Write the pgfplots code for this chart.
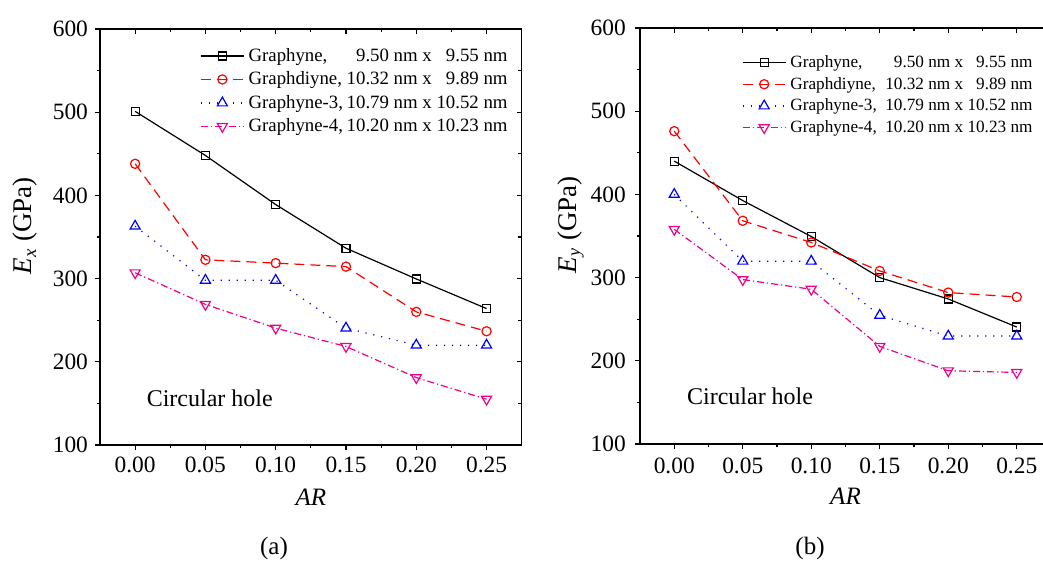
\documentclass[border=0pt]{standalone}
\usepackage{pgfplots}
\pgfplotsset{compat=1.18}
\usepackage{pgfplotstable}
\usepackage{fontspec}
\setmainfont{Liberation Serif}
\newfontfamily\tr{Liberation Serif}

\pgfplotstableread{
x g gd g3 g4
0.00 501 438 363 307
0.05 448 322.6 298 269
0.10 389 318.6 298 240.5
0.15 336.5 314.4 240.5 218.4
0.20 299.6 260 220 181
0.25 264 236.7 220 155
}\Ex

\pgfplotstableread{
x g gd g3 g4
0.00 440 476 400 358
0.05 392.6 368.3 319.7 297.6
0.10 349.4 342.2 319.7 286
0.15 300 308 254.6 217.3
0.20 274.3 282 229.7 188
0.25 240.6 276.7 229.7 186
}\Ey

\newlength\lwa \newlength\lwb \newlength\lwc \newlength\lwd
\newcommand\lgA[3]{\makebox[\lwa][l]{#1} \makebox[\lwb][r]{#2} nm x \makebox[\lwb][r]{#3} nm}
\newcommand\lgB[3]{\makebox[\lwc][l]{#1}\hspace{0.55em}\makebox[\lwd][r]{#2} nm x \makebox[\lwd][r]{#3} nm}

\pgfplotsset{
  base/.style={
    scale only axis,
    xmin=-0.025, xmax=0.275, ymin=100, ymax=600,
    xtick={0,0.05,0.1,0.15,0.2,0.25},
    ytick={100,200,300,400,500,600},
    minor x tick num=1, minor y tick num=1,
    major tick length=2.5pt, minor tick length=1.7pt,
    axis line style={line width=0.6pt},
    every tick/.style={black, line width=0.6pt},
    /pgf/number format/assume math mode=true,
    tick label style={font=\tr\fontsize{11.7}{14}\selectfont},
    xticklabel style={/pgf/number format/.cd, fixed, fixed zerofill, precision=2},
    yticklabel style={/pgf/number format/.cd, fixed, precision=0},
    clip=false,
  },
  over/.style={base, tick pos=right, tick align=inside, xticklabels={}, yticklabels={}},
  s1/.style={black, solid, line width=0.6pt, mark=square, mark size=2pt, mark options={solid, fill=white}},
  s2/.style={red, line width=0.6pt, dash pattern=on 5pt off 3pt, mark=o, mark size=2.3pt, mark options={solid, fill=white}},
  s3/.style={blue, line width=0.6pt, dash pattern=on 0.6pt off 3.4pt, mark=triangle, mark size=2.9pt, mark options={solid, fill=white}},
  s4/.style={magenta, line width=0.6pt, dash pattern=on 3.5pt off 1.5pt on 0.6pt off 1.5pt, mark=triangle, mark size=2.9pt, mark options={solid, fill=white, rotate=180}},
  legend image code/.code={\draw[mark repeat=2,mark phase=2] plot coordinates {(0cm,0cm) (0.38cm,0cm) (0.76cm,0cm)};},
}

\begin{document}%
\settowidth\lwa{\tr\fontsize{9.4}{11}\selectfont Graphdiyne,}%
\settowidth\lwb{\tr\fontsize{9.4}{11}\selectfont 10.32}%
\settowidth\lwc{\tr\fontsize{8.6}{10}\selectfont Graphdiyne,}%
\settowidth\lwd{\tr\fontsize{8.6}{10}\selectfont 10.32}%
\begin{tikzpicture}[font=\tr]
\useasboundingbox (0,0) rectangle (521.5pt,280.5pt);

% ---------- (a) ----------
\begin{axis}[base,
  at={(50pt,58pt)}, anchor=south west,
  width=210.85pt, height=208pt,
  tick pos=left, tick align=outside,
  xlabel={\textit{AR}},
  xlabel style={at={(axis description cs:0.5,-0.125)}, anchor=center, font=\tr\fontsize{12.5}{14}\selectfont},
  ylabel={\textit{E}\textsubscript{\textit{x}} (GPa)},
  ylabel style={at={(axis description cs:-0.177,0.527)}, anchor=center, font=\tr\fontsize{13.5}{15}\selectfont},
  legend cell align=left,
  legend style={draw=none, fill=none, at={(axis description cs:0.9675,0.9644)}, anchor=north east,
    font=\tr\fontsize{9.4}{11}\selectfont, inner sep=0pt, column sep=2pt,
    nodes={inner sep=0pt, text height=8.5pt, text depth=3.25pt}},
]
\addplot[s1] table[x=x,y=g] {\Ex};
\addlegendentry{\lgA{Graphyne,}{9.50}{9.55}}
\addplot[s2] table[x=x,y=gd] {\Ex};
\addlegendentry{\lgA{Graphdiyne,}{10.32}{9.89}}
\addplot[s3] table[x=x,y=g3] {\Ex};
\addlegendentry{\lgA{Graphyne-3,}{10.79}{10.52}}
\addplot[s4] table[x=x,y=g4] {\Ex};
\addlegendentry{\lgA{Graphyne-4,}{10.20}{10.23}}
\node[anchor=base west, font=\tr\fontsize{12}{14}\selectfont, inner sep=0pt] at (axis cs:0.008,146) {Circular hole};
\node[anchor=center, font=\tr\fontsize{12.5}{14}\selectfont] at (axis description cs:0.4126,-0.2476) {(a)};
\end{axis}
\begin{axis}[over, at={(50pt,58pt)}, anchor=south west, width=210.85pt, height=208pt]
\end{axis}

% ---------- (b) ----------
\begin{axis}[base,
  at={(320pt,58.5pt)}, anchor=south west,
  width=205.5pt, height=208pt,
  tick pos=left, tick align=outside,
  tick label style={font=\tr\fontsize{9}{11}\selectfont, scale=1.3},
  xlabel={\textit{AR}},
  xlabel style={at={(axis description cs:0.5,-0.125)}, anchor=center, font=\tr\fontsize{9}{11}\selectfont, scale=1.389},
  ylabel={\textit{E}\textsubscript{\textit{y}} (GPa)},
  ylabel style={at={(axis description cs:-0.168,0.527)}, anchor=center, font=\tr\fontsize{9}{11}\selectfont, scale=1.5},
  legend cell align=left,
  legend style={draw=none, fill=none, at={(axis description cs:0.956,0.944)}, anchor=north east,
    font=\tr\fontsize{8.6}{10}\selectfont, inner sep=0pt, column sep=2pt,
    nodes={inner sep=0pt, text height=7.9pt, text depth=2.95pt}},
]
\addplot[s1] table[x=x,y=g] {\Ey};
\addlegendentry{\lgB{Graphyne,}{9.50}{9.55}}
\addplot[s2] table[x=x,y=gd] {\Ey};
\addlegendentry{\lgB{Graphdiyne,}{10.32}{9.89}}
\addplot[s3] table[x=x,y=g3] {\Ey};
\addlegendentry{\lgB{Graphyne-3,}{10.79}{10.52}}
\addplot[s4] table[x=x,y=g4] {\Ey};
\addlegendentry{\lgB{Graphyne-4,}{10.20}{10.23}}
\node[anchor=base west, font=\tr\fontsize{9.4}{11}\selectfont, scale=1.2766, inner sep=0pt] at (axis cs:0.009,147) {Circular hole};
\node[anchor=center, font=\tr\fontsize{9}{11}\selectfont, scale=1.389] at (axis description cs:0.4136,-0.25) {(b)};
\end{axis}
\begin{axis}[over, at={(320pt,58.5pt)}, anchor=south west, width=205.5pt, height=208pt]
\end{axis}
\end{tikzpicture}%
\end{document}
